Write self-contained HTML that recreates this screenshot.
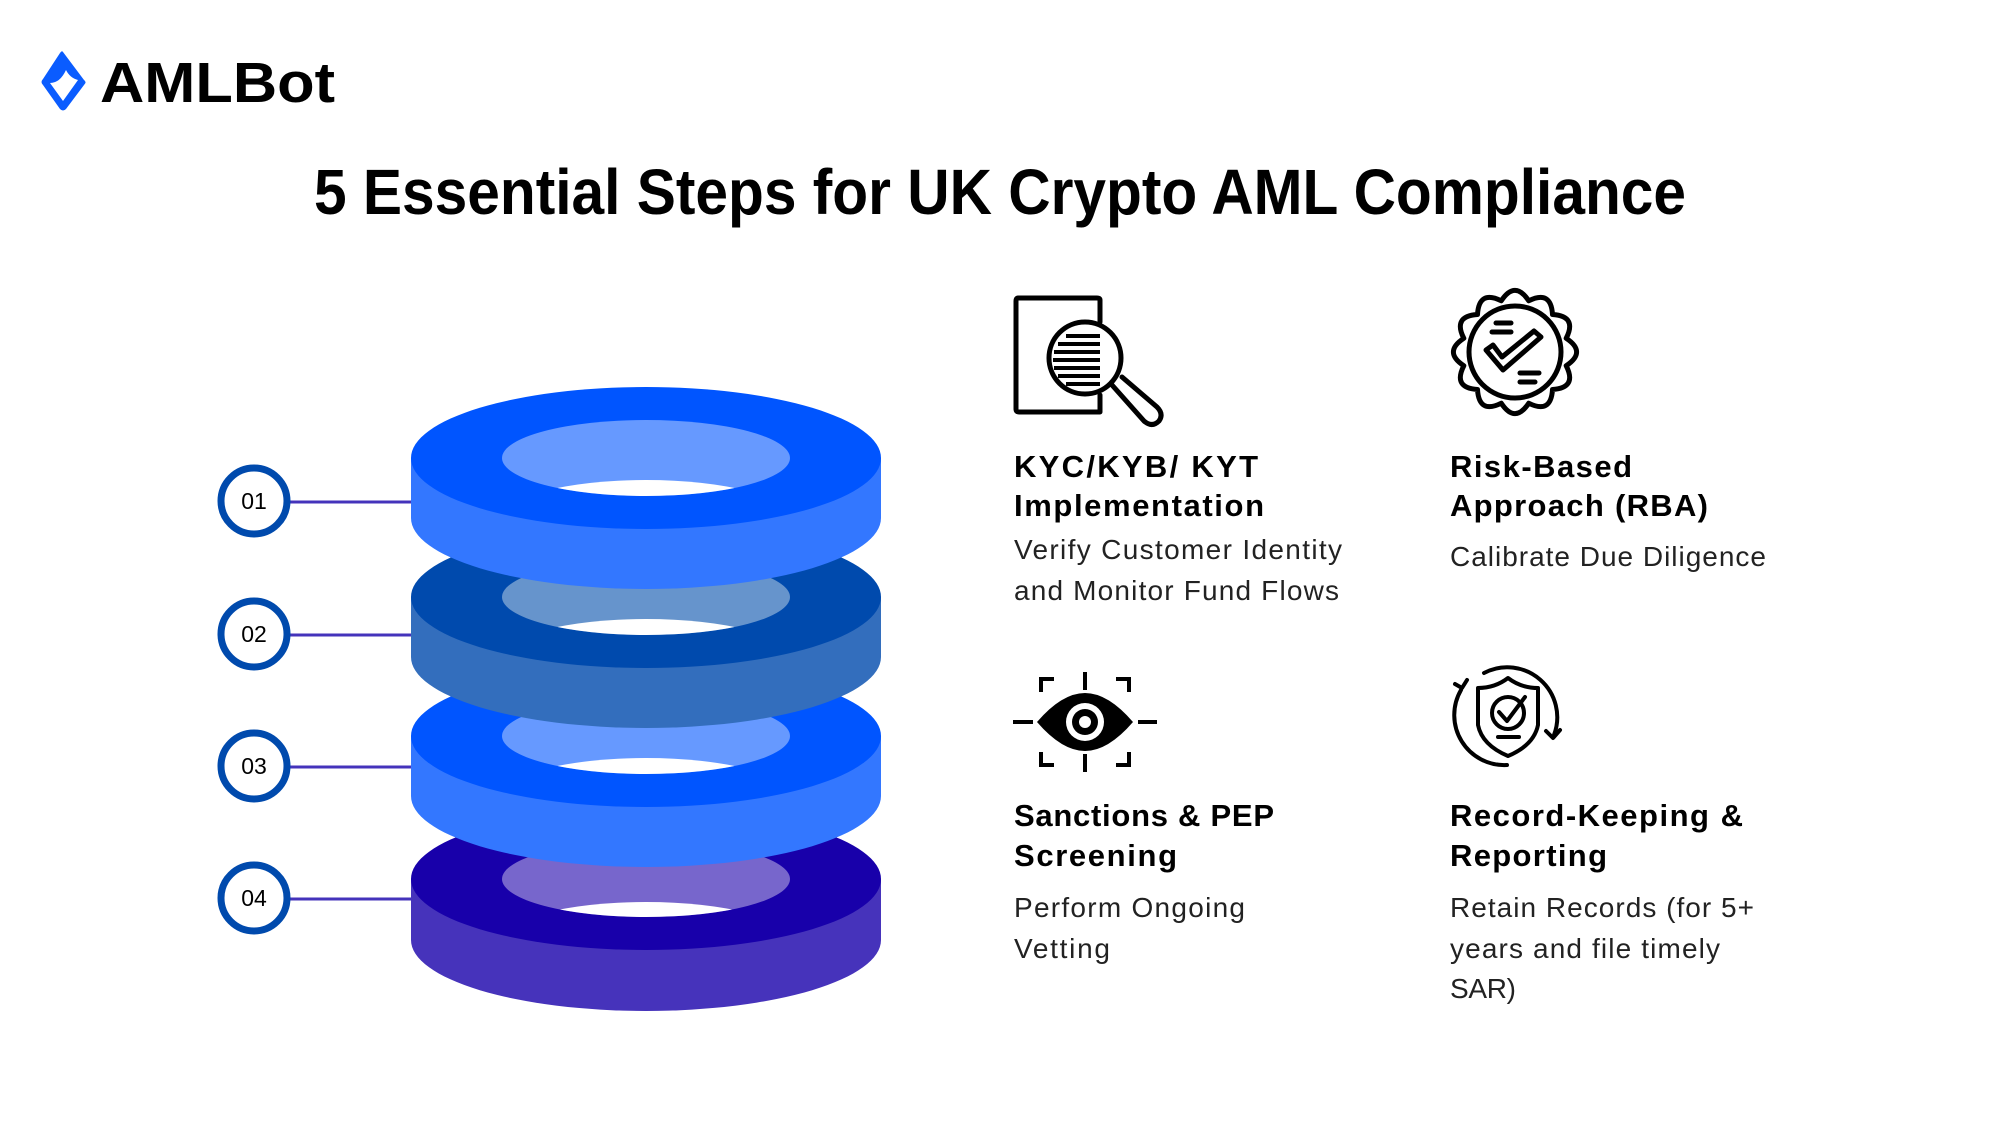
<!DOCTYPE html>
<html><head><meta charset="utf-8"><style>
html,body{margin:0;padding:0;background:#fff;}
svg{display:block;}
text{font-family:"Liberation Sans",sans-serif;}
</style></head><body>
<svg width="2000" height="1125" viewBox="0 0 2000 1125" xmlns="http://www.w3.org/2000/svg">
<defs>
<clipPath id="h1"><ellipse cx="646" cy="458" rx="144" ry="38"/></clipPath>
<clipPath id="h2"><ellipse cx="646" cy="597" rx="144" ry="38"/></clipPath>
<clipPath id="h3"><ellipse cx="646" cy="736" rx="144" ry="38"/></clipPath>
<clipPath id="h4"><ellipse cx="646" cy="879" rx="144" ry="38"/></clipPath>
</defs>
<rect width="2000" height="1125" fill="#fff"/>

<!-- logo -->
<path d="M63 52 L84 80 Q87 82 84 85 L66 109 Q63 112 60 109 L43 85 Q40 82 43 79 L60 53 Q62 50 63 52 Z" fill="#0a5cff"/>
<path d="M66 70 Q70 78 78 80 L63 101 L50 83 Q60 83 66 70 Z" fill="#fff"/>
<text x="100" y="102" font-size="57" font-weight="bold" fill="#000" textLength="235" lengthAdjust="spacingAndGlyphs">AMLBot</text>

<!-- title -->
<text x="314" y="214" font-size="64" font-weight="bold" fill="#000" textLength="1372" lengthAdjust="spacingAndGlyphs">5 Essential Steps for UK Crypto AML Compliance</text>

<!-- connectors -->
<g stroke="#4433bb" stroke-width="3">
<line x1="290" y1="502" x2="414" y2="502"/>
<line x1="290" y1="635" x2="414" y2="635"/>
<line x1="290" y1="767" x2="414" y2="767"/>
<line x1="290" y1="899" x2="414" y2="899"/>
</g>

<!-- ring 4 -->
<path d="M411 879 L411 940 A235 71 0 0 0 881 940 L881 879 Z" fill="#4633bb"/>
<ellipse cx="646" cy="879" rx="235" ry="71" fill="#1800aa"/>
<ellipse cx="646" cy="879" rx="144" ry="38" fill="#7766cc"/>
<ellipse cx="646" cy="940" rx="144" ry="38" fill="#fff" clip-path="url(#h4)"/>
<!-- ring 3 -->
<path d="M411 736 L411 796 A235 71 0 0 0 881 796 L881 736 Z" fill="#3377ff"/>
<ellipse cx="646" cy="736" rx="235" ry="71" fill="#0055ff"/>
<ellipse cx="646" cy="736" rx="144" ry="38" fill="#6699ff"/>
<ellipse cx="646" cy="796" rx="144" ry="38" fill="#fff" clip-path="url(#h3)"/>
<!-- ring 2 -->
<path d="M411 597 L411 657 A235 71 0 0 0 881 657 L881 597 Z" fill="#336ebd"/>
<ellipse cx="646" cy="597" rx="235" ry="71" fill="#004aad"/>
<ellipse cx="646" cy="597" rx="144" ry="38" fill="#6694cc"/>
<ellipse cx="646" cy="657" rx="144" ry="38" fill="#fff" clip-path="url(#h2)"/>
<!-- ring 1 -->
<path d="M411 458 L411 518 A235 71 0 0 0 881 518 L881 458 Z" fill="#3377ff"/>
<ellipse cx="646" cy="458" rx="235" ry="71" fill="#0055ff"/>
<ellipse cx="646" cy="458" rx="144" ry="38" fill="#6699ff"/>
<ellipse cx="646" cy="518" rx="144" ry="38" fill="#fff" clip-path="url(#h1)"/>

<!-- number circles -->
<g fill="#fff" stroke="#004aad" stroke-width="7">
<circle cx="254" cy="501" r="33"/>
<circle cx="254" cy="634" r="33"/>
<circle cx="254" cy="766" r="33"/>
<circle cx="254" cy="898" r="33"/>
</g>
<g font-size="23" fill="#000" text-anchor="middle">
<text x="254" y="509">01</text>
<text x="254" y="642">02</text>
<text x="254" y="774">03</text>
<text x="254" y="906">04</text>
</g>

<!-- icon 1: doc + magnifier -->
<g fill="none" stroke="#000" stroke-width="5" stroke-linejoin="round" stroke-linecap="round">
<path d="M1100 322 L1100 300 Q1100 298 1097 298 L1018 298 Q1016 298 1016 301 L1016 409 Q1016 412 1019 412 L1100 412 L1100 395"/>
<circle cx="1085" cy="358" r="36"/>
<path d="M1112 385 L1144 421 Q1152 428 1159 421 Q1164 414 1157 407 L1122 377"/>
</g>
<g stroke="#000" stroke-width="4">
<line x1="1066" y1="336" x2="1100" y2="336"/><line x1="1058" y1="344" x2="1100" y2="344"/>
<line x1="1054" y1="352" x2="1100" y2="352"/><line x1="1053" y1="360" x2="1100" y2="360"/>
<line x1="1054" y1="368" x2="1100" y2="368"/><line x1="1058" y1="376" x2="1100" y2="376"/>
<line x1="1066" y1="384" x2="1100" y2="384"/>
</g>

<!-- icon 2: seal -->
<g fill="none" stroke="#000" stroke-width="5" stroke-linejoin="round" stroke-linecap="round">
<path d="M1566.2 338.3 Q1587 352 1566.2 365.7 Q1577.4 388 1552.5 389.5 Q1551 414.4 1528.7 403.2 Q1515 424 1501.3 403.2 Q1479 414.4 1477.5 389.5 Q1452.6 388 1463.8 365.7 Q1443 352 1463.8 338.3 Q1452.6 316 1477.5 314.5 Q1479 289.6 1501.3 300.8 Q1515 280 1528.7 300.8 Q1551 289.6 1552.5 314.5 Q1577.4 316 1566.2 338.3 Z"/>
<circle cx="1515" cy="352" r="46"/>
<path d="M1486 350 L1503 370 L1541 337 L1534 331 L1502 357 L1493 345 Z"/>
<line x1="1496" y1="323" x2="1511" y2="323"/><line x1="1492" y1="332" x2="1511" y2="332"/>
<line x1="1520" y1="373" x2="1539" y2="373"/><line x1="1520" y1="382" x2="1535" y2="382"/>
</g>

<!-- icon 3: eye -->
<g stroke="#000" stroke-width="4" fill="none">
<path d="M1041 692 L1041 679 L1054 679"/><path d="M1116 679 L1129 679 L1129 692"/>
<path d="M1041 752 L1041 765 L1054 765"/><path d="M1116 765 L1129 765 L1129 752"/>
<line x1="1085" y1="672" x2="1085" y2="690"/><line x1="1085" y1="754" x2="1085" y2="772"/>
<line x1="1013" y1="722" x2="1033" y2="722"/><line x1="1138" y1="722" x2="1157" y2="722"/>
</g>
<path d="M1037 722 Q1062 693 1085 693 Q1108 693 1133 722 Q1108 751 1085 751 Q1062 751 1037 722 Z" fill="#000"/>
<circle cx="1085" cy="722" r="19" fill="#fff"/>
<circle cx="1085" cy="722" r="13" fill="#000"/>
<circle cx="1085" cy="722" r="6" fill="#fff"/>

<!-- icon 4: shield -->
<g fill="none" stroke="#000" stroke-width="4" stroke-linecap="round" stroke-linejoin="round">
<path d="M1461 690 A50 50 0 0 0 1507 765"/>
<path d="M1484 673 A50 50 0 0 1 1554 735"/>
<path d="M1455 684 L1462 688 L1467 680"/>
<path d="M1546 731 L1553 738 L1560 730"/>
<path d="M1508 678 Q1495 688 1478 688 L1478 725 Q1482 745 1508 756 Q1534 745 1538 725 L1538 688 Q1521 688 1508 678 Z"/>
<circle cx="1508" cy="713" r="16"/>
<path d="M1499 712 L1507 721 L1525 697"/>
<line x1="1498" y1="737" x2="1519" y2="737"/>
</g>

<!-- text blocks -->
<g font-weight="bold" font-size="31" fill="#000" lengthAdjust="spacingAndGlyphs">
<text x="1014" y="477" textLength="244">KYC/KYB/ KYT</text>
<text x="1014" y="516" textLength="250">Implementation</text>
<text x="1450" y="477" textLength="182">Risk-Based</text>
<text x="1450" y="516" textLength="258">Approach (RBA)</text>
<text x="1014" y="826" textLength="260">Sanctions &amp; PEP</text>
<text x="1014" y="866" textLength="163">Screening</text>
<text x="1450" y="826" textLength="293">Record-Keeping &amp;</text>
<text x="1450" y="866" textLength="157">Reporting</text>
</g>
<g font-size="28" fill="#222">
<text x="1014" y="559" textLength="328">Verify Customer Identity</text>
<text x="1014" y="600" textLength="325">and Monitor Fund Flows</text>
<text x="1450" y="566" textLength="316">Calibrate Due Diligence</text>
<text x="1014" y="917" textLength="231">Perform Ongoing</text>
<text x="1014" y="958" textLength="96">Vetting</text>
<text x="1450" y="917" textLength="304">Retain Records (for 5+</text>
<text x="1450" y="958" textLength="270">years and file timely</text>
<text x="1450" y="998" textLength="66">SAR)</text>
</g>
</svg>
</body></html>
